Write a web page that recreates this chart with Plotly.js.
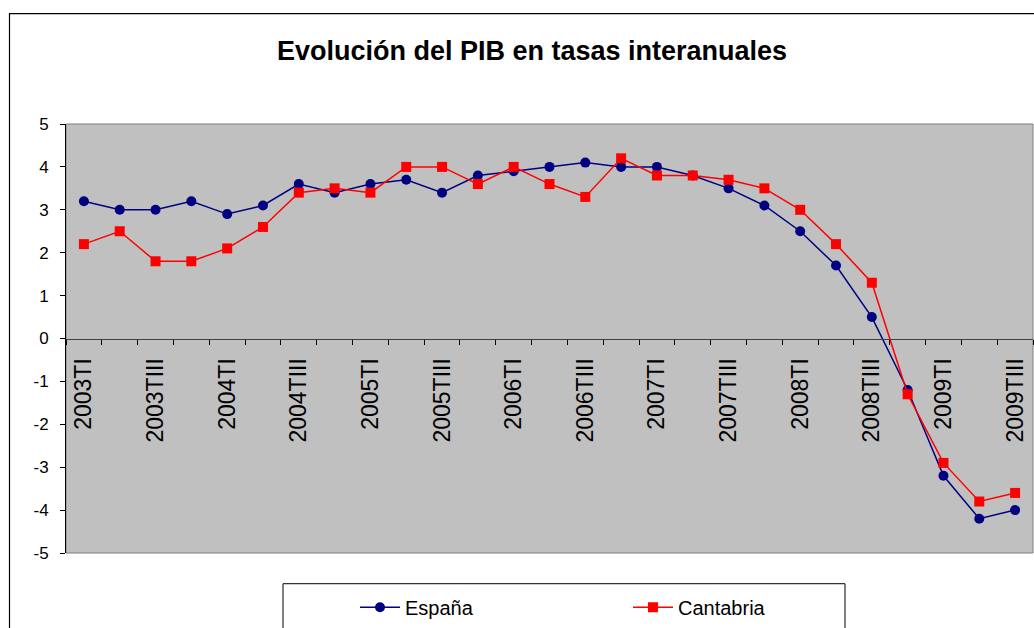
<!DOCTYPE html>
<html>
<head>
<meta charset="utf-8">
<script src="https://cdn.plot.ly/plotly-3.0.1.min.js"></script>
<style>html,body{margin:0;padding:0;background:#fff;}#chart{width:1034px;height:628px;}</style>
</head>
<body>
<div id="chart"></div>
<script>
const categories = ["2003TI","2003TII","2003TIII","2003TIV","2004TI","2004TII","2004TIII","2004TIV",
  "2005TI","2005TII","2005TIII","2005TIV","2006TI","2006TII","2006TIII","2006TIV",
  "2007TI","2007TII","2007TIII","2007TIV","2008TI","2008TII","2008TIII","2008TIV",
  "2009TI","2009TII","2009TIII"];
const espana = [3.2,3.0,3.0,3.2,2.9,3.1,3.6,3.4,3.6,3.7,3.4,3.8,3.9,4.0,4.1,4.0,4.0,3.8,3.5,3.1,2.5,1.7,0.5,-1.2,-3.2,-4.2,-4.0];
const cantabria = [2.2,2.5,1.8,1.8,2.1,2.6,3.4,3.5,3.4,4.0,4.0,3.6,4.0,3.6,3.3,4.2,3.8,3.8,3.7,3.5,3.0,2.2,1.3,-1.3,-2.9,-3.8,-3.6];
const tickLabels = categories.map((c, i) => i % 2 === 0 ? c : "");
const yTickVals = [-5,-4,-3,-2,-1,0,1,2,3,4,5];
const yTickText = ["-5","-4","-3","-2","-1","0","1","2","3","4","5"];
const titleText = "Evolución del PIB en tasas interanuales";

const FONT = "Liberation Sans, Arial, sans-serif";
const W = 1034, H = 628;
const L = 66, R = 1, T = 124, B = 71;
const pw = W - L - R, ph = H - T - B;
const px = x => (x - L) / pw;
const py = y => (H - B - y) / ph;

const traces = [
  {x: categories, y: espana, name: "España", type: "scatter", mode: "lines+markers",
   line: {color: "#000080", width: 1.5}, marker: {symbol: "circle", size: 10, color: "#000080"}},
  {x: categories, y: cantabria, name: "Cantabria", type: "scatter", mode: "lines+markers",
   line: {color: "#FF0000", width: 1.5}, marker: {symbol: "square", size: 10, color: "#FF0000"}}
];

const layout = {
  width: W, height: H,
  margin: {l: L, r: R, t: T, b: B, pad: 0},
  paper_bgcolor: "#ffffff",
  plot_bgcolor: "#C0C0C0",
  font: {family: FONT, color: "#000"},
  showlegend: true,
  title: {text: titleText, font: {family: FONT, size: 27, color: "#000", weight: "bold"},
          x: 532 / W, xref: "container", xanchor: "center", y: 1 - 51 / H, yref: "container", yanchor: "middle"},
  xaxis: {type: "category", anchor: "free", position: 0.5, side: "bottom",
          range: [-0.5, categories.length - 0.5],
          tickmode: "array", tickvals: categories, ticktext: tickLabels,
          tickson: "boundaries", ticks: "outside", ticklen: 5, tickcolor: "#000", tickwidth: 1,
          tickangle: -90, tickfont: {family: FONT, size: 23, color: "#000"}, ticklabelstandoff: 9,
          showline: true, linecolor: "#404040", linewidth: 1.5, showgrid: false, zeroline: false, fixedrange: true},
  yaxis: {range: [-5, 5], tickmode: "array", tickvals: yTickVals, ticktext: yTickText,
          ticks: "outside", ticklen: 5, tickcolor: "#000",
          tickfont: {family: FONT, size: 17, color: "#000"}, ticklabelstandoff: 8,
          showline: true, linecolor: "#000", linewidth: 1, showgrid: false, zeroline: false, fixedrange: true},
  legend: {orientation: "h", x: px(355), y: py(592), xanchor: "left", yanchor: "top",
           bgcolor: "rgba(0,0,0,0)", borderwidth: 0, entrywidth: 218,
           font: {family: FONT, size: 20, color: "#000"}, itemwidth: 40},
  shapes: [
    {type: "rect", xref: "paper", yref: "paper", x0: 0, x1: 1, y0: 0, y1: 1,
     line: {color: "#808080", width: 1}, layer: "below", fillcolor: "rgba(0,0,0,0)"},
    {type: "rect", xref: "paper", yref: "paper", x0: px(9.5), x1: px(1040), y0: py(660), y1: py(12.5),
     line: {color: "#000", width: 1.2}, fillcolor: "rgba(0,0,0,0)"},
    {type: "rect", xref: "paper", yref: "paper", x0: px(283), x1: px(845), y0: py(660), y1: py(588),
     line: {color: "#000", width: 1}, fillcolor: "rgba(0,0,0,0)"}
  ]
};

Plotly.newPlot("chart", traces, layout, {displayModeBar: false, staticPlot: true});
</script>
</body>
</html>
